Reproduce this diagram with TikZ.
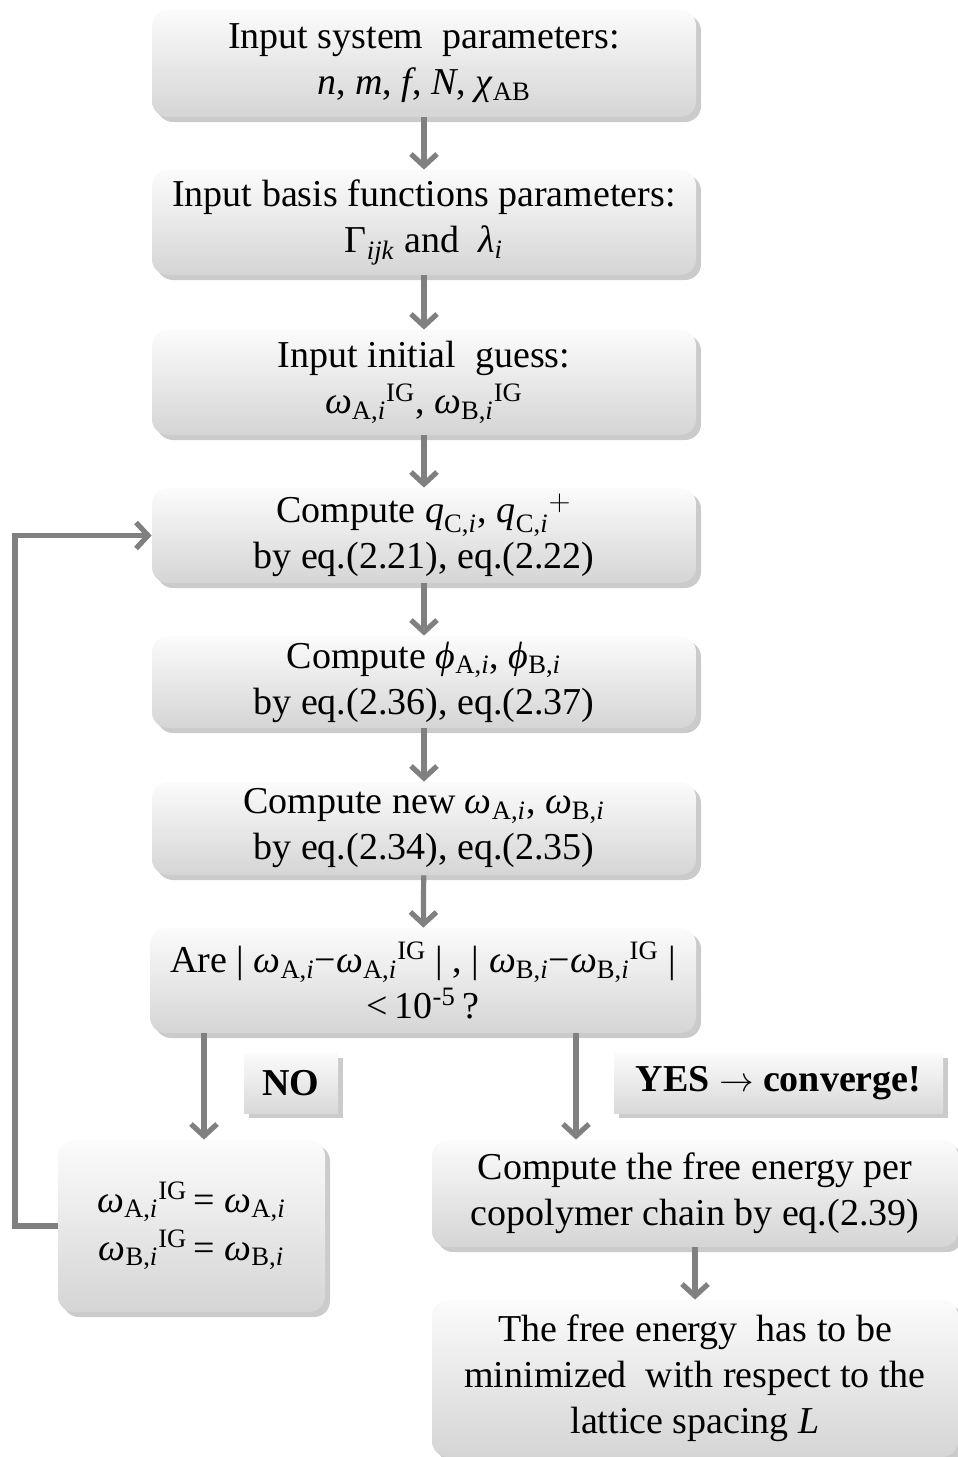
\documentclass[tikz,border=0pt]{standalone}
\usepackage{amsmath}
\usepackage{fontspec}
\setmainfont{Liberation Serif}
\usetikzlibrary{arrows.meta,shadows,calc}

\newcommand{\omg}[1]{\ensuremath{\text{\textit{ω}}_{\text{#1,\textit{i}}}}}
\newcommand{\omIG}[1]{\ensuremath{\text{\textit{ω}}_{\text{#1,\textit{i}}}{}^{\text{IG}}}}
\newcommand{\qci}[1]{\ensuremath{\text{\textit{q}}_{\text{C,\textit{i}}}{}^{#1}}}

\begin{document}
\begin{tikzpicture}[x=0.5pt,y=-0.5pt,
    box/.style={rounded corners=8pt, top color=gray!3, bottom color=gray!33, draw=none,
        align=center, inner sep=2pt, minimum width=272pt,
        font=\fontsize{19}{23}\selectfont, execute at begin node=\rule{0pt}{22pt},
        drop shadow={shadow xshift=2.5pt, shadow yshift=-2.5pt, fill=black!45, opacity=.45}},
    tag/.style={top color=gray!3, bottom color=gray!30, draw=none, inner sep=2pt,
        minimum height=30pt, font=\fontsize{19}{23}\selectfont\bfseries,
        drop shadow={shadow xshift=2.5pt, shadow yshift=-2.5pt, fill=black!45, opacity=.45}},
    flow/.style={draw=black!50, line width=2.6pt, -{Straight Barb[length=6pt,width=13pt]}}]
    \useasboundingbox (0,0) rectangle (958,1457);

    % colonna centrale
    \node[box, minimum height=53.5pt] (b1) at (424,63.5) {Input system\ \ parameters:\\ \textit{n}, \textit{m}, \textit{f}, \textit{N}, \textit{χ}\textsubscript{AB}};
    \node[box, minimum height=52.5pt] (b2) at (424,222.5) {Input basis functions parameters:\\ Γ\textsubscript{\textit{ijk}} and\ \ \textit{λ}\textsubscript{\textit{i}}};
    \node[box, minimum height=52.5pt] (b3) at (424,382.5) {Input initial\ \ guess:\\ \omIG{A}, \omIG{B}};
    \node[box, minimum height=47.5pt] (b4) at (424,535.5) {Compute \qci{}, \qci{+}\\ by eq.(2.21), eq.(2.22)};
    \node[box, minimum height=46pt] (b5) at (424,682) {Compute \textit{ϕ}\textsubscript{A,\textit{i}}, \textit{ϕ}\textsubscript{B,\textit{i}}\\ by eq.(2.36), eq.(2.37)};
    \node[box, minimum height=46.5pt] (b6) at (424,828.5) {Compute new \omg{A}, \omg{B}\\ by eq.(2.34), eq.(2.35)};
    \node[box, minimum height=52.5pt, minimum width=273pt] (b7) at (423,980.5) {Are | \omg{A}−\omIG{A} | , | \omg{B}−\omIG{B} |\\ <\,10\textsuperscript{-5}\,?};

    % etichette
    \node[tag, minimum width=47pt] (no) at (291,1083) {NO};
    \node[tag, minimum width=164.5pt] (yes) at (778.5,1083) {YES \ensuremath{\rightarrow} converge!};

    % rami
    \node[box, minimum width=133.5pt, minimum height=86pt, font=\fontsize{19}{22}\selectfont] (upd) at (191.5,1226) {\omIG{A}\,= \omg{A}\\[2pt] \omIG{B}\,= \omg{B}};
    \node[box, minimum width=263pt, minimum height=53.5pt] (fe) at (695,1193.5) {Compute the free energy per\\ copolymer chain by eq.(2.39)};
    \node[box, minimum width=263pt, minimum height=78.5pt] (minL) at (695,1378.5) {The free energy\ \ has to be\\ minimized\ \ with respect to the\\ lattice spacing \textit{L}};

    \coordinate (noline) at (204,0);
    \coordinate (yesline) at (576,0);
    \coordinate (loop) at (15,0);

    % frecce
    \draw[flow] (b1) -- (b2);
    \draw[flow] (b2) -- (b3);
    \draw[flow] (b3) -- (b4);
    \draw[flow] (b4) -- (b5);
    \draw[flow] (b5) -- (b6);
    \draw[flow] (b6) -- (b7);
    \draw[flow] (b7.south -| noline) -- (upd.north -| noline);
    \draw[flow] (b7.south -| yesline) -- (fe.north -| yesline);
    \draw[flow] (fe.south) -- (minL.north);
    \draw[flow] (upd.west) -- (upd.west -| loop) |- (b4.west); % ritorno
\end{tikzpicture}
\end{document}
